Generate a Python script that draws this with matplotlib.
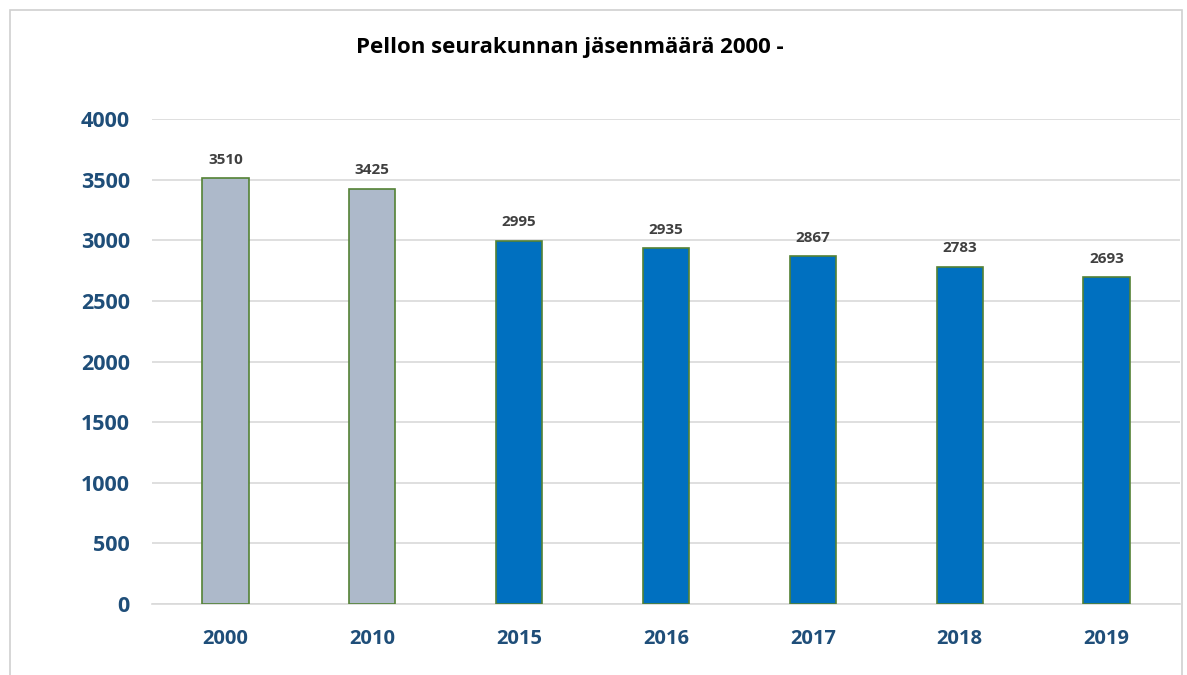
import matplotlib.pyplot as plt
from matplotlib.patches import Rectangle

plt.rcParams['font.family'] = ['Open Sans', 'DejaVu Sans']

vuodet = ["2000", "2010", "2015", "2016", "2017", "2018", "2019"]
jasenet = [3510, 3425, 2995, 2935, 2867, 2783, 2693]
varit = ["#ADB9CA", "#ADB9CA", "#0070C0", "#0070C0", "#0070C0", "#0070C0", "#0070C0"]

fig = plt.figure(figsize=(11.87, 6.75), dpi=100)
W, H = 1187, 675

# kehys
fig.patches.append(Rectangle((10 / W, -0.01), 1172 / W, 1 - 10 / H + 0.01,
                             transform=fig.transFigure, fill=False,
                             edgecolor="#D0D0D0", linewidth=1.2))

ax = fig.add_axes([152 / W, 1 - 604 / H, (1180 - 152) / W, (604 - 119) / H])
x = range(len(vuodet))
ax.bar(x, jasenet, width=0.315, color=varit, edgecolor="#548235", linewidth=1.2, zorder=3)

for xi, v in zip(x, jasenet):
    ax.text(xi, v + 95, str(v), ha="center", va="bottom", fontsize=11,
            fontweight="bold", color="#404040")

ax.set_ylim(0, 4000)
ax.set_xlim(-0.5, len(vuodet) - 0.5)
ax.set_yticks(range(0, 4001, 500))
ax.set_xticks(list(x))
ax.set_xticklabels(vuodet)
ax.grid(axis="y", color="#D9D9D9", linewidth=1.2, zorder=0)
for s in ["top", "right", "left"]:
    ax.spines[s].set_visible(False)
ax.spines["bottom"].set_color("#D9D9D9")
ax.spines["bottom"].set_linewidth(1.2)
ax.tick_params(length=0)
ax.tick_params(axis="y", pad=16)
ax.tick_params(axis="x", pad=18)
for lab in ax.get_yticklabels():
    lab.set_fontsize(15.5)
for lab in ax.get_xticklabels():
    lab.set_fontsize(14.5)
for lab in ax.get_yticklabels() + ax.get_xticklabels():
    lab.set_fontweight("bold")
    lab.set_color("#1F4E79")

fig.text(570 / W, 1 - 47 / H, "Pellon seurakunnan jäsenmäärä 2000 -", ha="center",
         va="center", fontsize=16, fontweight="bold", color="black")

fig.savefig("out.png", dpi=100)
